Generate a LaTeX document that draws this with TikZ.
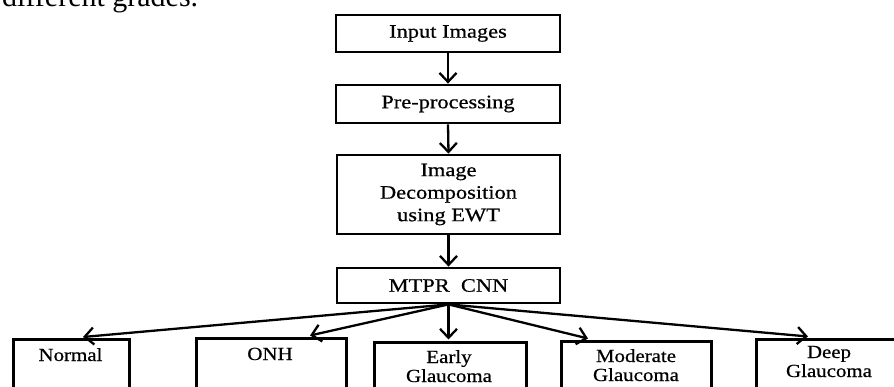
\documentclass[tikz,border=0pt]{standalone}
\usepackage{fontspec}
\setmainfont{Liberation Serif}
\newfontfamily\topfont{Liberation Serif}[FakeStretch=1.18,FakeBold=0.6]
\newfontfamily\botfont{Liberation Serif}[FakeStretch=1.13,FakeBold=0.6]
\usetikzlibrary{arrows.meta}
\begin{document}
\begin{tikzpicture}[x=1pt,y=1pt,
  flowbox/.style={draw, line width=2.8pt, rectangle, inner sep=0pt, minimum width=224pt,
    align=center, font=\topfont\fontsize{19}{22.5}\selectfont},
  leafbox/.style={draw, line width=2.8pt, rectangle, inner sep=0pt, anchor=north west},
  leaftext/.style={anchor=base, align=center, inner sep=0pt, font=\botfont\fontsize{18.5}{19}\selectfont},
  flowarrow/.style={line width=2.3pt, -{Straight Barb[length=9pt,width=17pt,line width=2.3pt]}}
]
\useasboundingbox (0,0) rectangle (894,-387);
\clip (0,0) rectangle (894,-387);
\fill[white] (0,0) rectangle (894,-387);

% partial paragraph text at the top
\node[anchor=base west, inner sep=0pt, font=\fontsize{30}{32}\selectfont] (para) at (2,-7) {different grades.};

% main flow
\node[flowbox, minimum height=37pt] (in) at (448,-33.5) {Input Images};
\node[flowbox, minimum height=38pt] (pre) at (448,-104) {Pre-processing};
\node[flowbox, minimum height=79pt, minimum width=223pt] (dec) at (448.5,-194.5) {Image\\Decomposition\\using EWT};
\node[flowbox, minimum height=35pt, minimum width=223pt] (mtpr) at (448.5,-285.5) {MTPR\ \ CNN};

\draw[flowarrow] (in.south) -- (pre.north);
\draw[flowarrow] (pre.south) -- (dec.north);
\draw[flowarrow] (dec.south) -- (mtpr.north);

% output classes
\node[leafbox, minimum width=116pt, minimum height=80pt] (normal) at (12,-338) {};
\node[leafbox, minimum width=150pt, minimum height=80pt] (onh) at (195,-337) {};
\node[leafbox, minimum width=152pt, minimum height=80pt] (early) at (373,-341) {};
\node[leafbox, minimum width=150pt, minimum height=80pt] (moderate) at (560,-340) {};
\node[leafbox, minimum width=150pt, minimum height=80pt] (deep) at (755,-338) {};

\node[leaftext] (normalt) at (70.5,-361) {Normal};
\node[leaftext] (onht) at (270,-360) {ONH};
\node[leaftext] (earlyt) at (449,-382) {Early\\Glaucoma};
\node[leaftext] (moderatet) at (636,-381) {Moderate\\Glaucoma};
\node[leaftext] (deept) at (829,-377) {Deep\\Glaucoma};

\coordinate (tnormal) at (83,-337);
\coordinate (tonh) at (310,-335.5);
\coordinate (tearly) at (448.5,-339.5);
\coordinate (tmoderate) at (588,-338.5);
\coordinate (tdeep) at (808,-336.5);

\draw[flowarrow] (mtpr.south) -- (tnormal);
\draw[flowarrow] (mtpr.south) -- (tonh);
\draw[flowarrow] (mtpr.south) -- (tearly);
\draw[flowarrow] (mtpr.south) -- (tmoderate);
\draw[flowarrow] (mtpr.south) -- (tdeep);
\end{tikzpicture}
\end{document}
